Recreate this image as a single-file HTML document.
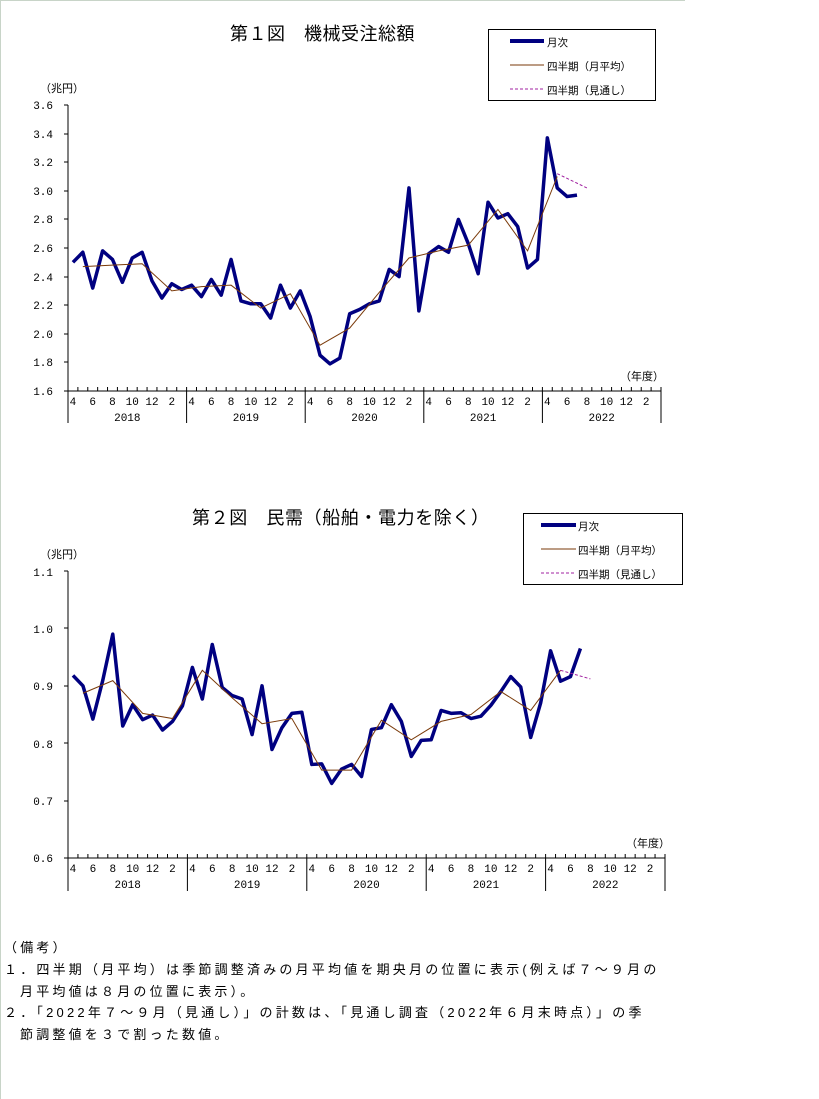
<!DOCTYPE html>
<html><head><meta charset="utf-8"><style>
body{margin:0;background:#fff;}
#w{position:relative;width:819px;height:1099px;overflow:hidden;}
.t{position:absolute;font-family:"Liberation Sans","Noto Sans CJK JP",sans-serif;color:#000;white-space:nowrap;}
.n{font-size:13px;letter-spacing:3.2px;left:4px;}
</style></head><body><div id="w">
<div style="position:absolute;left:0;top:0;width:685px;height:1px;background:#c8d4c8"></div>
<div style="position:absolute;left:0;top:0;width:1px;height:1099px;background:#c8d4c8"></div>
<svg id="s" width="819" height="1099" style="position:absolute;left:0;top:0" font-family="Liberation Mono, monospace" font-size="11">
<g id="g1"></g><g id="g2"></g>
<g text-anchor="end">
<text x="53" y="109">3.6</text><text x="53" y="138">3.4</text><text x="53" y="166">3.2</text><text x="53" y="195">3.0</text><text x="53" y="223">2.8</text><text x="53" y="252">2.6</text><text x="53" y="281">2.4</text><text x="53" y="309">2.2</text><text x="53" y="338">2.0</text><text x="53" y="366">1.8</text><text x="53" y="395">1.6</text>
<text x="53" y="576">1.1</text><text x="53" y="633">1.0</text><text x="53" y="690">0.9</text><text x="53" y="748">0.8</text><text x="53" y="805">0.7</text><text x="53" y="862">0.6</text>
</g>
<rect x="488.5" y="29.5" width="167" height="71" fill="none" stroke="#000"/>
<line x1="510" y1="41" x2="544" y2="41" stroke="#000080" stroke-width="4"/>
<line x1="510" y1="65" x2="544" y2="65" stroke="#7a3a0a" stroke-width="1"/>
<line x1="510" y1="89" x2="544" y2="89" stroke="#a020a0" stroke-width="1" stroke-dasharray="3,2"/>
<rect x="523.5" y="513.5" width="159" height="71" fill="none" stroke="#000"/>
<line x1="541" y1="525" x2="576" y2="525" stroke="#000080" stroke-width="4"/>
<line x1="541" y1="549" x2="576" y2="549" stroke="#7a3a0a" stroke-width="1"/>
<line x1="541" y1="573" x2="576" y2="573" stroke="#a020a0" stroke-width="1" stroke-dasharray="3,2"/>
</svg>
<div class="t" style="left:230px;top:20px;font-size:18px;letter-spacing:0.5px">第１図　機械受注総額</div>
<div class="t" style="left:192px;top:504px;font-size:18px;letter-spacing:0.6px">第２図　民需（船舶・電力を除く）</div>
<div class="t" style="left:40px;top:80px;font-size:11px">（兆円）</div>
<div class="t" style="left:40px;top:546px;font-size:11px">（兆円）</div>
<div class="t" style="left:620px;top:368px;font-size:11px">（年度）</div>
<div class="t" style="left:626px;top:835px;font-size:11px">（年度）</div>
<div class="t" style="left:547px;top:35px;font-size:10.5px">月次</div>
<div class="t" style="left:547px;top:59px;font-size:10.5px">四半期（月平均）</div>
<div class="t" style="left:547px;top:83px;font-size:10.5px">四半期（見通し）</div>
<div class="t" style="left:578px;top:519px;font-size:10.5px">月次</div>
<div class="t" style="left:578px;top:543px;font-size:10.5px">四半期（月平均）</div>
<div class="t" style="left:578px;top:567px;font-size:10.5px">四半期（見通し）</div>
<div class="t n" style="top:937px">（備考）</div>
<div class="t n" style="top:959px">１．四半期（月平均）は季節調整済みの月平均値を期央月の位置に表示(例えば７～９月の</div>
<div class="t n" style="top:981px;left:20px">月平均値は８月の位置に表示）。</div>
<div class="t n" style="top:1002px">２．「2022年７～９月（見通し）」の計数は、「見通し調査（2022年６月末時点）」の季</div>
<div class="t n" style="top:1024px;left:20px">節調整値を３で割った数値。</div>
</div>
<script>
const NS="http://www.w3.org/2000/svg";
function el(p,t,a){const e=document.createElementNS(NS,t);for(const k in a)e.setAttribute(k,a[k]);p.appendChild(e);return e;}
function chart(g,x0,yw,top,bot,yb,ticks,m,q,f,yv){
 const mw=yw/12,X=i=>x0+mw*i+mw/2;
 el(g,"line",{x1:x0,y1:top,x2:x0,y2:yb,stroke:"#000"});
 el(g,"line",{x1:x0,y1:bot,x2:x0+yw*5,y2:bot,stroke:"#000"});
 for(const ty of ticks)el(g,"line",{x1:x0-4,y1:ty,x2:x0,y2:ty,stroke:"#000"});
 for(let i=0;i<=60;i++){const x=x0+mw*i;
  el(g,"line",{x1:x,y1:i%12==0?yb:bot,x2:x,y2:bot-4,stroke:"#000"});}
 const ml=[4,6,8,10,12,2];
 for(let y=0;y<5;y++){for(let k=0;k<6;k++){const t=el(g,"text",{x:X(y*12+k*2),y:bot+14,"text-anchor":"middle","font-size":"11","font-family":"Liberation Mono, monospace"});t.textContent=ml[k];}
  const t=el(g,"text",{x:x0+yw*y+yw/2,y:bot+30,"text-anchor":"middle","font-size":"11","font-family":"Liberation Mono, monospace"});t.textContent=2018+y;}
 el(g,"polyline",{points:m.map((v,i)=>X(i)+","+yv(v)).join(" "),fill:"none",stroke:"#000080","stroke-width":3.5,"stroke-linejoin":"round"});
 el(g,"polyline",{points:q.map((v,i)=>X(1+3*i)+","+yv(v)).join(" "),fill:"none",stroke:"#7a3a0a","stroke-width":1});
 el(g,"polyline",{points:f.map((v,i)=>X(49+3*i)+","+yv(v)).join(" "),fill:"none",stroke:"#a020a0","stroke-width":1,"stroke-dasharray":"3,2"});
}
const m1=[2.50,2.57,2.32,2.58,2.52,2.36,2.53,2.57,2.37,2.25,2.35,2.31,2.34,2.26,2.38,2.27,2.52,2.23,2.21,2.21,2.11,2.34,2.18,2.30,2.12,1.85,1.79,1.83,2.14,2.17,2.21,2.23,2.45,2.40,3.02,2.16,2.56,2.61,2.57,2.80,2.63,2.42,2.92,2.81,2.84,2.75,2.46,2.52,3.37,3.02,2.96,2.97];
const q1=[2.47,2.48,2.49,2.30,2.33,2.34,2.18,2.28,1.92,2.04,2.29,2.53,2.58,2.62,2.87,2.58,3.10];
chart(document.getElementById("g1"),68,118.6,105,391,423,[105,134,162,191,219,248,277,305,334,362,391],m1,q1,[3.12,3.02],v=>391-(v-1.6)*143);
const m2=[0.918,0.90,0.842,0.91,0.99,0.83,0.867,0.841,0.849,0.823,0.838,0.865,0.932,0.877,0.972,0.897,0.883,0.877,0.815,0.90,0.789,0.827,0.852,0.854,0.763,0.764,0.73,0.755,0.763,0.742,0.824,0.827,0.867,0.838,0.777,0.805,0.806,0.857,0.852,0.853,0.843,0.847,0.866,0.89,0.916,0.898,0.81,0.87,0.961,0.908,0.916,0.965];
const q2=[0.887,0.909,0.852,0.843,0.927,0.879,0.834,0.843,0.753,0.753,0.840,0.806,0.838,0.850,0.89,0.857,0.927];
chart(document.getElementById("g2"),68,119.4,571,858,891,[571,628,686,743,801,858],m2,q2,[0.927,0.912],v=>858-(v-0.6)*574);
</script>
</body></html>
